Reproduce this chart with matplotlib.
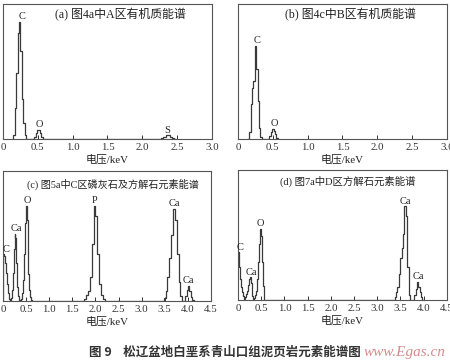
import matplotlib
matplotlib.use("Agg")
import matplotlib.pyplot as plt
import numpy as np

plt.rcParams["font.family"] = ["Liberation Serif", "Noto Sans CJK SC"]

# spectra: energy (keV) and counts (arbitrary units)
a_energy = [0.14, 0.16, 0.18, 0.20, 0.22, 0.24, 0.26, 0.28, 0.30, 0.32, 0.34, 0.36,
            0.44, 0.46, 0.48, 0.50, 0.52, 0.54, 0.56, 0.58,
            2.26, 2.29, 2.32, 2.35, 2.38, 2.41, 2.44, 2.47]
a_counts = [0, 3, 26, 56, 90, 100, 75, 34, 14, 3, 0, 0,
            0, 2, 5, 8, 8, 5, 2, 0,
            0, 1, 2, 3, 3, 2, 1, 0]

b_energy = [0.15, 0.17, 0.19, 0.21, 0.23, 0.25, 0.27, 0.29, 0.31, 0.33, 0.35,
            0.44, 0.46, 0.48, 0.50, 0.52, 0.54, 0.56, 0.58]
b_counts = [0, 8, 38, 55, 62, 100, 75, 41, 12, 2, 0,
            0, 3, 7, 11, 9, 5, 1, 0]

c_energy = [0.00, 0.02, 0.04, 0.06, 0.08, 0.10, 0.12, 0.14,
            0.16, 0.18, 0.20, 0.22, 0.24, 0.26, 0.28, 0.30, 0.32, 0.34, 0.36,
            0.38, 0.40, 0.42, 0.44, 0.46, 0.48, 0.50, 0.52, 0.54, 0.56, 0.58, 0.60,
            0.62, 0.64,
            1.74, 1.78, 1.82, 1.86, 1.90, 1.94, 1.98, 2.02, 2.06, 2.10, 2.14, 2.18, 2.22,
            3.46, 3.50, 3.54, 3.58, 3.62, 3.66, 3.70, 3.74, 3.78, 3.82, 3.86, 3.90,
            3.93, 3.96, 3.99, 4.02, 4.05, 4.08, 4.11, 4.14]
c_counts = [0, 49, 47, 40, 30, 18, 8, 2,
            0, 3, 12, 30, 55, 71, 66, 40, 15, 5, 1,
            0, 2, 8, 22, 50, 82, 100, 85, 55, 28, 12, 4,
            1, 0,
            0, 2, 6, 10, 25, 60, 100, 90, 50, 18, 6, 2, 0,
            0, 3, 10, 25, 45, 70, 97, 85, 50, 20, 5, 0,
            0, 5, 12, 16, 10, 4, 1, 0]

d_energy = [0.00, 0.02, 0.04, 0.06, 0.08, 0.10, 0.12, 0.14,
            0.16, 0.18, 0.20, 0.22, 0.24, 0.26, 0.28, 0.30, 0.32, 0.34,
            0.36, 0.38, 0.40, 0.42, 0.44, 0.46, 0.48, 0.50, 0.52, 0.54, 0.56, 0.58,
            3.36, 3.39, 3.42, 3.45, 3.48, 3.51, 3.54, 3.57, 3.60, 3.63, 3.66, 3.69, 3.72,
            3.78, 3.81, 3.84, 3.87, 3.90, 3.93, 3.96, 3.99]
d_counts = [51, 48, 35, 22, 14, 8, 4, 1,
            3, 6, 10, 16, 22, 24, 18, 10, 4, 1,
            2, 5, 10, 22, 40, 60, 76, 68, 40, 15, 4, 0,
            0, 3, 8, 14, 28, 45, 55, 70, 100, 90, 35, 5, 0,
            0, 5, 12, 19, 14, 8, 3, 0]

a_peaks, a_peak_e = ["C", "O", "S"], [0.27, 0.52, 2.36]
b_peaks, b_peak_e = ["C", "O"], [0.27, 0.52]
c_peaks, c_peak_e = ["C", "Ca", "O", "P", "Ca", "Ca"], [0.06, 0.28, 0.52, 1.98, 3.70, 4.02]
d_peaks, d_peak_e = ["C", "Ca", "O", "Ca", "Ca"], [0.04, 0.28, 0.49, 3.60, 3.88]

titles = ["(a) 图4a中A区有机质能谱", "(b) 图4c中B区有机质能谱",
          "(c) 图5a中C区磷灰石及方解石元素能谱", "(d) 图7a中D区方解石元素能谱"]
xlabel = "电压/keV"
caption = "图 9    松辽盆地白垩系青山口组泥页岩元素能谱图"
watermark = "www.Egas.cn"

line_c = "#3a3a3a"


def draw(ax, energy, counts, peaks, peak_e, title, xmax, ymax, title_x, title_y, title_fs):
    energy = np.asarray(energy)
    counts = np.asarray(counts)
    ax.step(energy, counts, where="mid", color=line_c, lw=0.9)
    for name, e in zip(peaks, peak_e):
        near = np.abs(energy - e) < 0.05
        top = counts[near].max()
        ax.annotate(name, (e, top), xytext=(0, 0.5), textcoords="offset points",
                    ha="center", va="bottom", fontsize=7.5, color="#222222")
    ax.text(title_x, title_y, title, transform=ax.transAxes, ha="center",
            va="center", fontsize=title_fs, color="#222222")
    ticks = np.arange(0, xmax + 0.01, 0.5)
    ax.set_xticks(ticks)
    ax.set_xticklabels(["0" if t == 0 else f"{t:.1f}" for t in ticks])
    ax.set_xlim(0, xmax)
    ax.set_ylim(0, ymax)
    ax.set_yticks([])
    ax.tick_params(axis="x", direction="in", length=3, width=0.7, pad=3,
                   labelsize=7.8, colors="#333333", top=False)
    ax.set_xlabel(xlabel, fontsize=7.8, labelpad=2, color="#222222")
    for s in ax.spines.values():
        s.set_color("#555555")
        s.set_linewidth(0.8)


fig = plt.figure(figsize=(4.5, 3.6), dpi=100)
ax_a = fig.add_axes([0.0067, 0.614, 0.464, 0.375])
ax_b = fig.add_axes([0.529, 0.614, 0.464, 0.375])
ax_c = fig.add_axes([0.0067, 0.164, 0.462, 0.361])
ax_d = fig.add_axes([0.529, 0.167, 0.464, 0.361])

draw(ax_a, a_energy, a_counts, a_peaks, a_peak_e, titles[0], 3.0, 115, 0.56, 0.92, 8.6)
draw(ax_b, b_energy, b_counts, b_peaks, b_peak_e, titles[1], 3.0, 145, 0.54, 0.92, 8.6)
draw(ax_c, c_energy, c_counts, c_peaks, c_peak_e, titles[2], 4.5, 137, 0.53, 0.90, 7.3)
draw(ax_d, d_energy, d_counts, d_peaks, d_peak_e, titles[3], 4.5, 139, 0.525, 0.91, 7.5)

fig.text(0.5, 0.022, caption, ha="center", va="center", fontsize=9,
         fontweight="bold", family=["Noto Sans CJK SC", "DejaVu Sans"], color="#333333")
fig.text(0.9, 0.022, watermark, ha="center", va="center", fontsize=11,
         style="italic", color="#c86464", alpha=0.75)

fig.savefig("out.png", dpi=100)
